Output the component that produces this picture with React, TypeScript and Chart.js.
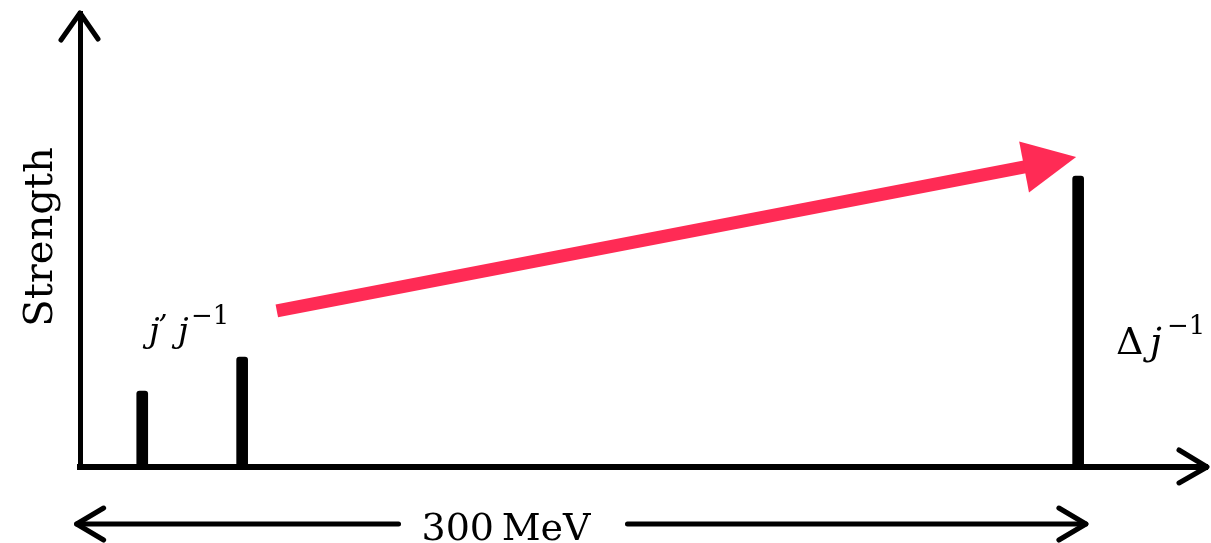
import React, { useEffect, useRef } from "react";
import { Chart, registerables } from "chart.js";

Chart.register(...registerables);

// Excitation energy (MeV) of each spike and its strength (arbitrary units, axis top = 1)
const energies = [18.5, 48.2, 296.7];
const strengths = [0.167, 0.242, 0.641];
const xMax = 335;
const yMax = 1;
// energy span marked below the axis
const spanStart = -1;
const spanEnd = 299;
const spanLabel = "300\u2009MeV";
const yTitle = "Strength";

const RED = "#ff2b55";
const SERIF = "'DejaVu Serif', 'Liberation Serif', serif";

const decorations = {
  id: "decorations",
  afterDraw(chart: any) {
    const ctx: CanvasRenderingContext2D = chart.ctx;
    const xs = chart.scales.x;
    const ys = chart.scales.y;
    const area = chart.chartArea;
    const ox = xs.getPixelForValue(0);
    const oy = ys.getPixelForValue(0);
    ctx.save();

    // corner fill and axis arrowheads
    ctx.fillStyle = "#000";
    ctx.fillRect(ox - 3, oy - 3, 6, 6);
    ctx.strokeStyle = "#000";
    ctx.lineWidth = 5;
    ctx.lineCap = "round";
    ctx.lineJoin = "round";
    ctx.beginPath();
    ctx.moveTo(ox - 19, area.top + 27);
    ctx.lineTo(ox, area.top);
    ctx.lineTo(ox + 18, area.top + 26);
    ctx.stroke();
    ctx.beginPath();
    ctx.moveTo(area.right - 28, oy - 17);
    ctx.lineTo(area.right, oy);
    ctx.lineTo(area.right - 28, oy + 16);
    ctx.stroke();

    // energy span double arrow
    const sx0 = xs.getPixelForValue(spanStart);
    const sx1 = xs.getPixelForValue(spanEnd);
    const ly = oy + 57;
    ctx.font = `38px ${SERIF}`;
    const tw = ctx.measureText(spanLabel).width;
    const cx = 506;
    ctx.fillStyle = "#000";
    ctx.textAlign = "center";
    ctx.textBaseline = "alphabetic";
    ctx.fillText(spanLabel, cx, ly + 16);
    ctx.lineWidth = 5;
    ctx.beginPath();
    ctx.moveTo(sx0, ly);
    ctx.lineTo(cx - tw / 2 - 23, ly);
    ctx.moveTo(cx + tw / 2 + 37, ly);
    ctx.lineTo(sx1, ly);
    ctx.stroke();
    ctx.beginPath();
    ctx.moveTo(sx0 + 27, ly - 16);
    ctx.lineTo(sx0, ly);
    ctx.lineTo(sx0 + 27, ly + 16);
    ctx.moveTo(sx1 - 27, ly - 16);
    ctx.lineTo(sx1, ly);
    ctx.lineTo(sx1 - 27, ly + 16);
    ctx.stroke();

    // y axis title
    ctx.save();
    ctx.translate(52, (area.top + area.bottom) / 2 - 3);
    ctx.rotate(-Math.PI / 2);
    ctx.font = `40px ${SERIF}`;
    ctx.textAlign = "center";
    ctx.fillText(yTitle, 0, 0);
    ctx.restore();

    // labels j'j^-1 and Δj^-1
    ctx.textAlign = "left";
    ctx.font = `italic 34px ${SERIF}`;
    ctx.fillText("j", 149, 342);
    ctx.font = `italic 30px ${SERIF}`;
    ctx.fillText("\u2019", 158, 336);
    ctx.font = `italic 34px ${SERIF}`;
    ctx.fillText("j", 178, 342);
    ctx.font = `26px ${SERIF}`;
    ctx.fillText("\u22121", 191, 324);

    ctx.font = `38px ${SERIF}`;
    ctx.fillText("\u0394", 1116, 354);
    ctx.font = `italic 38px ${SERIF}`;
    ctx.fillText("j", 1150, 354);
    ctx.font = `26px ${SERIF}`;
    ctx.fillText("\u22121", 1167, 334);

    // red arrow from j'j^-1 towards Δj^-1
    const ax0 = xs.getPixelForValue(58.5);
    const ay0 = ys.getPixelForValue(0.344);
    const ax1 = xs.getPixelForValue(296.1);
    const ay1 = ys.getPixelForValue(0.683);
    const ang = Math.atan2(ay1 - ay0, ax1 - ax0);
    const headLen = 53;
    const headHalf = 26;
    const bx = ax1 - headLen * Math.cos(ang);
    const by = ay1 - headLen * Math.sin(ang);
    ctx.strokeStyle = RED;
    ctx.fillStyle = RED;
    ctx.lineCap = "butt";
    ctx.lineWidth = 13;
    ctx.beginPath();
    ctx.moveTo(ax0, ay0);
    ctx.lineTo(bx + 2 * Math.cos(ang), by + 2 * Math.sin(ang));
    ctx.stroke();
    ctx.beginPath();
    ctx.moveTo(ax1, ay1);
    ctx.lineTo(bx - headHalf * Math.sin(ang), by + headHalf * Math.cos(ang));
    ctx.lineTo(bx + headHalf * Math.sin(ang), by - headHalf * Math.cos(ang));
    ctx.closePath();
    ctx.fill();

    ctx.restore();
  },
};

export default function App() {
  const ref = useRef<HTMLCanvasElement | null>(null);
  useEffect(() => {
    document.body.style.margin = "0";
    document.body.style.overflow = "hidden";
    const canvas = ref.current;
    if (!canvas) return;
    const chart = new Chart(canvas, {
      type: "bar",
      data: {
        datasets: [
          {
            data: energies.map((e, i) => ({ x: e, y: strengths[i] })),
            backgroundColor: "#000",
            barThickness: 11,
            borderRadius: { topLeft: 3, topRight: 3, bottomLeft: 0, bottomRight: 0 },
            borderSkipped: "bottom",
          },
        ],
      },
      options: {
        animation: false,
        responsive: false,
        devicePixelRatio: 1,
        layout: { padding: { left: 80, right: 4, top: 13, bottom: 76 } },
        plugins: { legend: { display: false }, tooltip: { enabled: false } },
        scales: {
          x: {
            type: "linear",
            min: 0,
            max: xMax,
            offset: false,
            grid: { display: false, drawTicks: false, offset: false },
            ticks: { display: false },
            border: { display: true, color: "#000", width: 6 },
          },
          y: {
            type: "linear",
            min: 0,
            max: yMax,
            grid: { display: false, drawTicks: false },
            ticks: { display: false },
            border: { display: true, color: "#000", width: 5 },
          },
        },
      },
      plugins: [decorations],
    });
    return () => chart.destroy();
  }, []);
  return (
    <div style={{ position: "absolute", left: 0, top: 0, width: 1211, height: 543, background: "#fff" }}>
      <canvas ref={ref} width={1211} height={543} style={{ display: "block" }} />
    </div>
  );
}
